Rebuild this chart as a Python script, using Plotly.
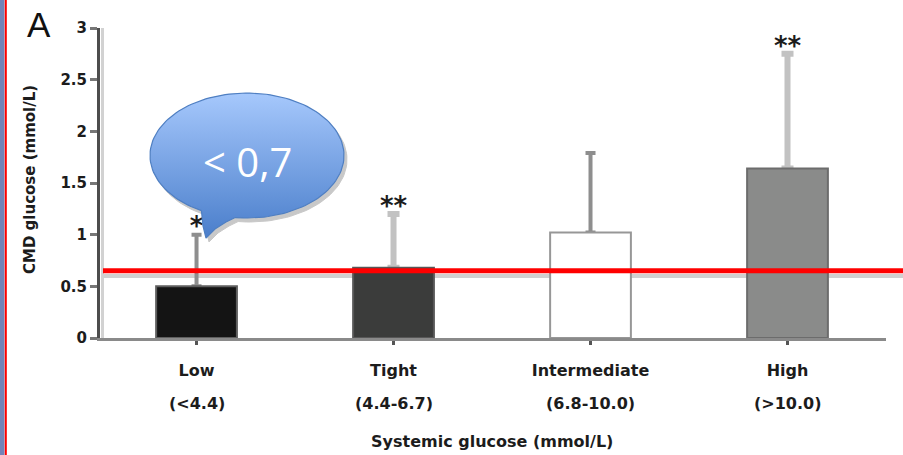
import numpy as np
import plotly.graph_objects as go

# ---- data -------------------------------------------------------------
groups = ["Low", "Tight", "Intermediate", "High"]
group_ranges = ["(<4.4)", "(4.4-6.7)", "(6.8-10.0)", "(>10.0)"]
cmd_glucose = [0.50, 0.68, 1.02, 1.64]
cmd_sd = [0.50, 0.52, 0.77, 1.11]
significance = ["*", "**", "", "**"]
y_tick_vals = [0, 0.5, 1, 1.5, 2, 2.5, 3]
y_tick_text = ["0", "0.5", "1", "1.5", "2", "2.5", "3"]
threshold = 0.65
reference_band = 0.60
callout_text = "< 0,7"

# ---- styles -----------------------------------------------------------
bar_fill = ["#141414", "#3b3c3b", "#ffffff", "#8a8b8a"]
bar_edge = ["#5e5e5e", "#575757", "#979797", "#6c6c6c"]
err_color = ["#8e8e8e", "#c2c2c2", "#8e8e8e", "#c2c2c2"]
err_thick = [4, 6, 4, 6]
err_cap = [5, 6, 5, 6]
TEXT = "#1c1c1c"
FONT = "DejaVu Sans"
BAR_W = 0.41

W, H = 903, 455
M_L, M_R, M_T, M_B = 100, 17, 28, 117
plot_w = W - M_L - M_R
plot_h = H - M_T - M_B


def px_x(px):
    """Page pixel column -> paper x."""
    return (px - M_L) / plot_w


def px_y(py):
    """Page pixel row -> paper y."""
    return (H - M_B - py) / plot_h


fig = go.Figure()

# upper error bars (carried by transparent bars so the solid bars drawn
# afterwards hide the lower cross-bar)
for i, g in enumerate(groups):
    fig.add_trace(go.Bar(
        x=[i], y=[cmd_glucose[i]], width=BAR_W,
        marker=dict(color="rgba(0,0,0,0)", line=dict(width=0)),
        error_y=dict(type="data", symmetric=False, array=[cmd_sd[i]],
                     arrayminus=[0], color=err_color[i],
                     thickness=err_thick[i], width=err_cap[i]),
        showlegend=False, hoverinfo="skip", name=g + " SD",
    ))

# the bars themselves
fig.add_trace(go.Bar(
    x=list(range(len(groups))), y=cmd_glucose, width=BAR_W,
    marker=dict(color=bar_fill, line=dict(color=bar_edge, width=2)),
    showlegend=False, hoverinfo="skip", name="CMD glucose",
))

# significance stars above each error bar
fig.add_trace(go.Scatter(
    x=list(range(len(groups))),
    y=[m + s - 0.07 for m, s in zip(cmd_glucose, cmd_sd)],
    mode="text", text=significance, textposition="top center",
    textfont=dict(family=FONT, size=26, color=TEXT, weight="bold"),
    showlegend=False, hoverinfo="skip", cliponaxis=False,
))

# ---- speech-bubble callout (pixel-space overlay axes) -------------------
cx, cy, rx, ry = 247, 155.5, 97, 62.5
t = np.radians(np.linspace(118, 457, 140))
bx = list(cx + rx * np.cos(t))
by = list(cy + ry * np.sin(t))
tail = [(226, 222), (215, 229), (206, 238), (203, 226)]
bx += [p[0] for p in tail] + [bx[0]]
by += [p[1] for p in tail] + [by[0]]

fig.add_trace(go.Scatter(
    x=[v + 3 for v in bx], y=[H - (v + 4) for v in by],
    xaxis="x2", yaxis="y2", mode="lines", fill="toself",
    fillcolor="#c8c8c8", line=dict(color="#c8c8c8", width=1),
    showlegend=False, hoverinfo="skip",
))
fig.add_trace(go.Scatter(
    x=bx, y=[H - v for v in by],
    xaxis="x2", yaxis="y2", mode="lines", fill="toself",
    fillgradient=dict(type="vertical",
                      colorscale=[[0, "#4a7ecb"], [1, "#a6c8fc"]]),
    line=dict(color="#4f7fc2", width=1.2),
    showlegend=False, hoverinfo="skip",
))

annotations = [
    dict(x=cx, y=H - 161, xref="x2", yref="y2", text=callout_text,
         showarrow=False, font=dict(family="Open Sans", size=40, color="white"),
         xanchor="center", yanchor="middle"),
    dict(x=px_x(39), y=px_y(25), xref="paper", yref="paper", text="A",
         showarrow=False, font=dict(family="Liberation Sans", size=35, color="#111"),
         xanchor="center", yanchor="middle"),
    dict(x=px_x(30), y=px_y(180), xref="paper", yref="paper",
         text="CMD glucose (mmol/L)", textangle=-90, showarrow=False,
         font=dict(family=FONT, size=15, color=TEXT, weight="bold"),
         xanchor="center", yanchor="middle"),
    dict(x=px_x(492), y=px_y(441), xref="paper", yref="paper",
         text="Systemic glucose (mmol/L)", showarrow=False,
         font=dict(family=FONT, size=16, color=TEXT, weight="bold"),
         xanchor="center", yanchor="middle"),
]
for i, r in enumerate(group_ranges):
    annotations.append(dict(
        x=i, y=px_y(403), xref="x", yref="paper", text=r, showarrow=False,
        font=dict(family=FONT, size=16, color=TEXT, weight="bold"),
        xanchor="center", yanchor="middle"))

shapes = [
    # left page border: blue strip and red rule
    dict(type="rect", xref="paper", yref="paper", x0=px_x(0), x1=px_x(4.5),
         y0=px_y(H), y1=px_y(0), fillcolor="#7383b8", line=dict(width=0),
         layer="above"),
    dict(type="line", xref="paper", yref="paper", x0=px_x(5.8), x1=px_x(5.8),
         y0=px_y(H), y1=px_y(0), line=dict(color="#ff0000", width=2),
         layer="above"),
    # light shading next to the y axis
    dict(type="line", xref="paper", yref="paper", x0=px_x(102.5), x1=px_x(102.5),
         y0=0, y1=1, line=dict(color="#d2d2d2", width=3), layer="below"),
    # pale reference band
    dict(type="line", xref="paper", yref="paper", x0=px_x(103), x1=px_x(W),
         y0=reference_band / 3, y1=reference_band / 3,
         line=dict(color="#d0d0d0", width=4), layer="below"),
    # red threshold line
    dict(type="line", xref="paper", yref="paper", x0=px_x(103), x1=px_x(W),
         y0=threshold / 3, y1=threshold / 3,
         line=dict(color="#ff0000", width=5), layer="above"),
]

fig.update_layout(
    width=W, height=H,
    margin=dict(l=M_L, r=M_R, t=M_T, b=M_B, autoexpand=False),
    paper_bgcolor="white", plot_bgcolor="rgba(0,0,0,0)",
    barmode="overlay", showlegend=False,
    annotations=annotations, shapes=shapes,
    xaxis=dict(range=[-0.49, 3.5], tickvals=list(range(len(groups))),
               ticktext=groups, showgrid=False, zeroline=False,
               showline=True, linecolor="#8a8a8a", linewidth=3,
               ticks="outside", ticklen=4, tickwidth=3, tickcolor="#555",
               ticklabelstandoff=12,
               tickfont=dict(family=FONT, size=16, color=TEXT, weight="bold"),
               fixedrange=True),
    yaxis=dict(range=[0, 3], tickvals=y_tick_vals, ticktext=y_tick_text,
               showgrid=False, zeroline=False, showline=True,
               linecolor="#4d4d4d", linewidth=3,
               ticks="outside", ticklen=7, tickwidth=3, tickcolor="#777",
               tickfont=dict(family=FONT, size=15, color=TEXT, weight="bold"),
               fixedrange=True),
    xaxis2=dict(overlaying="x", range=[M_L, W - M_R], visible=False,
                fixedrange=True),
    yaxis2=dict(overlaying="y", range=[M_B, H - M_T], visible=False,
                fixedrange=True),
)

fig.write_html("out.html")
